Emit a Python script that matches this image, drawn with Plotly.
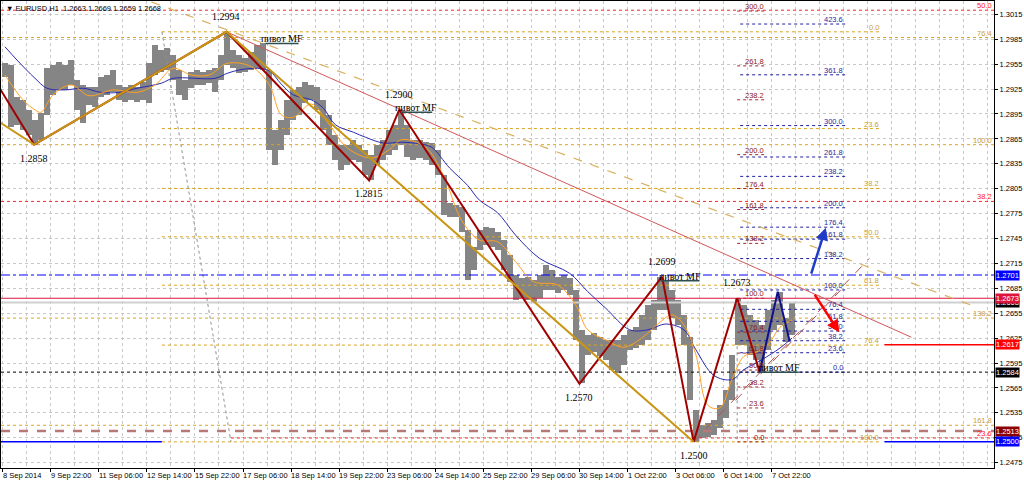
import plotly.graph_objects as go

# ---------------- DATA ----------------
# H1 bars of EURUSD, aggregated in groups of 4 bars (group k covers bars 4k..4k+3)
bar_high = [1.2956,1.2954,1.2915,1.2912,1.2900,1.2888,1.2896,1.2950,1.2954,1.2958,
            1.2954,1.2960,1.2936,1.2930,1.2927,1.2927,1.2940,1.2942,1.2948,1.2930,
            1.2927,1.2930,1.2927,1.2934,1.2956,1.2978,1.2972,1.2974,1.2966,1.2948,
            1.2936,1.2946,1.2948,1.2946,1.2948,1.2950,1.2966,1.2993,1.2972,1.2966,
            1.2962,1.2970,1.2978,1.2980,1.2948,1.2876,1.2888,1.2912,1.2924,1.2927,
            1.2934,1.2930,1.2927,1.2912,1.2894,1.2870,1.2858,1.2858,1.2864,1.2858,
            1.2852,1.2846,1.2858,1.2864,1.2876,1.2882,1.2900,1.2882,1.2864,1.2864,
            1.2861,1.2860,1.2852,1.2821,1.2788,1.2785,1.2783,1.2755,1.2735,1.2755,
            1.2759,1.2758,1.2753,1.2743,1.2725,1.2701,1.2697,1.2699,1.2695,1.2701,
            1.2713,1.2707,1.2699,1.2701,1.2697,1.2683,1.2635,1.2629,1.2631,1.2626,
            1.2623,1.2623,1.2623,1.2629,1.2635,1.2638,1.2653,1.2665,1.2671,1.2699,
            1.2695,1.2683,1.2671,1.2653,1.2626,1.2538,1.2520,1.2523,1.2526,1.2544,
            1.2562,1.2605,1.2673,1.2665,1.2653,1.2647,1.2641,1.2659,1.2671,1.2681,
            1.2649,1.2667]
bar_low = [1.2940,1.2879,1.2882,1.2876,1.2870,1.2858,1.2864,1.2894,1.2918,1.2924,
           1.2924,1.2930,1.2900,1.2884,1.2906,1.2903,1.2915,1.2918,1.2921,1.2912,
           1.2909,1.2912,1.2909,1.2912,1.2908,1.2942,1.2946,1.2948,1.2936,1.2918,
           1.2912,1.2926,1.2930,1.2930,1.2932,1.2921,1.2936,1.2954,1.2950,1.2944,
           1.2946,1.2948,1.2950,1.2948,1.2852,1.2834,1.2852,1.2870,1.2888,1.2894,
           1.2908,1.2912,1.2900,1.2876,1.2858,1.2840,1.2828,1.2834,1.2840,1.2837,
           1.2821,1.2815,1.2834,1.2840,1.2846,1.2852,1.2858,1.2843,1.2840,1.2842,
           1.2840,1.2834,1.2821,1.2773,1.2771,1.2771,1.2753,1.2695,1.2707,1.2731,
           1.2737,1.2735,1.2731,1.2707,1.2693,1.2671,1.2673,1.2671,1.2667,1.2673,
           1.2683,1.2683,1.2679,1.2683,1.2677,1.2623,1.2571,1.2605,1.2608,1.2603,
           1.2599,1.2587,1.2583,1.2593,1.2611,1.2613,1.2617,1.2623,1.2635,1.2659,
           1.2659,1.2649,1.2641,1.2617,1.2550,1.2500,1.2505,1.2506,1.2508,1.2517,
           1.2529,1.2550,1.2617,1.2617,1.2605,1.2599,1.2583,1.2611,1.2635,1.2641,
           1.2620,1.2629]

# moving averages (group index k, price)
ma_fast_k = [0,3,5,6,8,11,14,18,22,25,28,31,34,37,41,44,46,48,51,54,57,61,64,66,70,73,76,79,82,85,
             88,92,95,97,100,103,106,109,111,113,115,117,119,121,123,125,127,129,131]
ma_fast_p = [1.2942,1.2912,1.2900,1.2897,1.2918,1.2930,1.2917,1.2924,1.2921,1.2930,1.2950,1.2942,
             1.2942,1.2956,1.2952,1.2930,1.2894,1.2891,1.2907,1.2882,1.2854,1.2842,1.2852,1.2864,
             1.2855,1.2821,1.2767,1.2743,1.2741,1.2717,1.2693,1.2689,1.2665,1.2635,1.2623,1.2614,
             1.2625,1.2644,1.2653,1.2641,1.2605,1.2544,1.2541,1.2575,1.2603,1.2608,1.2617,1.2638,1.2647]
ma_slow_k = [0,2,5,7,10,13,16,19,22,26,28,35,37,39,42,44,46,48,51,53,55,58,60,63,66,69,71,74,77,79,
             82,85,89,94,97,100,104,107,110,113,115,118,121,123,126,129,131]
ma_slow_p = [1.2976,1.2960,1.2938,1.2926,1.2924,1.2926,1.2921,1.2921,1.2926,1.2932,1.2938,1.2938,
             1.2944,1.2948,1.2950,1.2947,1.2931,1.2918,1.2912,1.2902,1.2882,1.2873,1.2867,1.2860,
             1.2861,1.2859,1.2855,1.2830,1.2809,1.2791,1.2776,1.2749,1.2721,1.2703,1.2681,1.2661,
             1.2635,1.2635,1.2642,1.2635,1.2611,1.2580,1.2575,1.2587,1.2599,1.2613,1.2625]

# zigzag swing points (bar index, price)
red_zz_i = [-2, 21, 149, 244, 264, 384, 439, 460, 489, 504]
red_zz_p = [1.2926, 1.2858, 1.2994, 1.2815, 1.2900, 1.2570, 1.2699, 1.2500, 1.2673, 1.2584]
gold_zz_i = [-2, 21, 149, 460]
gold_zz_p = [1.2885, 1.2858, 1.2994, 1.2500]
blue_zz_i = [504, 516, 524]
blue_zz_p = [1.2584, 1.2681, 1.2621]

# swing value labels
swing_i = [149, 21, 244, 264, 384, 439, 460, 489]
swing_p = [1.2994, 1.2858, 1.2815, 1.2900, 1.2570, 1.2699, 1.2500, 1.2673]
swing_up = [True, False, False, True, False, True, False, True]

# "пивот MF" marks (start bar, end bar, price)
pivot_i0 = [175, 265, 438, 504]
pivot_i1 = [197, 286, 464, 530]
pivot_p = [1.2980, 1.2897, 1.2694, 1.2584]

# Fibonacci objects
fib_ratios_ext = [0, 23.6, 38.2, 50, 61.8, 76.4, 100, 138.2, 161.8, 176.4, 200, 238.2, 261.8, 300]
fib_ratios_blue = [0, 23.6, 38.2, 50, 61.8, 76.4, 100, 138.2, 161.8, 176.4, 200, 238.2, 261.8, 300, 361.8, 423.6]
fib_ratios_std = [0, 23.6, 38.2, 50, 61.8, 76.4, 100]
fib_ratios_e = [0, 23.6, 38.2, 50, 61.8, 76.4, 100, 138.2, 161.8]

# trend lines (bar index, price)
trend_red_i = [149, 605]; trend_red_p = [1.2994, 1.2626]
trend_tan_i = [99, 646]; trend_tan_p = [1.3030, 1.2664]
fork1_i = [460, 577]; fork1_p = [1.2500, 1.2721]
fork2_i = [488, 558]; fork2_p = [1.2550, 1.2683]

# arrows (tail -> head)
arrow_blue = (538, 1.2701, 548, 1.2758)
arrow_red = (540, 1.2679, 557, 1.2632)

# x tick labels (every 32 H1 bars)
x_labels = ["8 Sep 2014", "9 Sep 22:00", "11 Sep 06:00", "12 Sep 14:00", "15 Sep 22:00",
            "17 Sep 06:00", "18 Sep 14:00", "19 Sep 22:00", "23 Sep 06:00", "24 Sep 14:00",
            "25 Sep 22:00", "29 Sep 06:00", "30 Sep 14:00", "1 Oct 22:00", "3 Oct 06:00",
            "6 Oct 14:00", "7 Oct 22:00"]
y_ticks = [round(1.2475 + 0.003 * n, 4) for n in range(19)]

# price tags on the right scale
tag_price = [1.2701, 1.2668, 1.2673, 1.2617, 1.2584, 1.2513, 1.2500]
tag_color = ['#0000FF', '#000000', '#DC143C', '#FF0000', '#000000', '#8B0000', '#0000FF']

# ---------------- FIGURE ----------------
XMIN, XMAX = -1.13, 660
YMIN, YMAX = 1.24685, 1.30311
SANS = 'Liberation Sans'
SERIF = 'Liberation Serif'

fig = go.Figure()
ann = []


def hline(x0, x1, p, color, dash='solid', width=1):
    fig.add_trace(go.Scatter(x=[x0, x1], y=[p, p], mode='lines',
                             line=dict(color=color, dash=dash, width=width), hoverinfo='skip'))


def fib(p0, p100, i0, i1, ratios, color, tcolor):
    for r in ratios:
        p = p0 + (p100 - p0) * r / 100.0
        if not (YMIN < p < YMAX):
            continue
        hline(i0, i1, p, color, 'dot', 1)
        ann.append(dict(x=i1, y=p, xref='x', yref='y', text=f"{r:.1f}", showarrow=False,
                        xanchor='right', yanchor='bottom', yshift=-2,
                        font=dict(family=SANS, size=7.5, color=tcolor)))


# big fibs
fib(1.2044, 1.2044 + 0.1952, XMIN, XMAX, [38.2, 50], '#FF2020', '#FF2020')
fib(1.2044, 1.2044 + 0.1952, 152, XMAX, [23.6], '#FF2020', '#FF2020')
fib(1.3405, 1.2858, XMIN, XMAX, fib_ratios_e, '#DAA520', '#C8A040')
fib(1.2994, 1.2500, 106, 585, fib_ratios_std, '#DAA520', '#C8A040')
fib(1.2500, 1.2673, 489, 508, fib_ratios_ext, '#A52A2A', '#8B2020')
fib(1.2584, 1.2683, 491, 561, fib_ratios_blue, '#2020A0', '#2828A0')

# fib anchor lines
fig.add_trace(go.Scatter(x=[106, 152], y=[1.2994, 1.2500], mode='lines',
                         line=dict(color='#909090', dash='dot', width=1), hoverinfo='skip'))
fig.add_trace(go.Scatter(x=[489, 489], y=[1.2673, 1.2500], mode='lines',
                         line=dict(color='#909090', dash='dot', width=1), hoverinfo='skip'))

# horizontal price lines
hline(XMIN, XMAX, 1.2668, '#D0D0D0', 'solid', 2)
hline(XMIN, XMAX, 1.2701, '#0000FF', 'dashdot', 1)
hline(XMIN, XMAX, 1.2673, '#DC143C', 'solid', 1)
hline(587, XMAX, 1.2617, '#FF0000', 'solid', 1.5)
hline(XMIN, XMAX, 1.2584, '#000000', 'dot', 1)
hline(XMIN, XMAX, 1.2513, '#B87878', 'dash', 2.5)
hline(XMIN, 106, 1.2500, '#0000FF', 'solid', 1.5)
hline(587, XMAX, 1.2500, '#0000FF', 'solid', 1.5)

# price bars
bx = [4 * k + 1.5 for k in range(len(bar_high))]
fig.add_trace(go.Bar(x=bx, y=[h - l for h, l in zip(bar_high, bar_low)], base=bar_low,
                     width=4.0, marker=dict(color='#858585', line=dict(width=0)), hoverinfo='skip'))

# moving averages
fig.add_trace(go.Scatter(x=[4 * k + 1.5 for k in ma_slow_k], y=ma_slow_p, mode='lines',
                         line=dict(color='#2B2BB0', width=1, shape='spline'), hoverinfo='skip'))
fig.add_trace(go.Scatter(x=[4 * k + 1.5 for k in ma_fast_k], y=ma_fast_p, mode='lines',
                         line=dict(color='#FFA024', width=1, shape='spline'), hoverinfo='skip'))

# trend lines
fig.add_trace(go.Scatter(x=trend_tan_i, y=trend_tan_p, mode='lines',
                         line=dict(color='#D8B060', dash='dash', width=1.2), hoverinfo='skip'))
fig.add_trace(go.Scatter(x=trend_red_i, y=trend_red_p, mode='lines',
                         line=dict(color='#D05858', width=1), hoverinfo='skip'))
for fi, fp in ((fork1_i, fork1_p), (fork2_i, fork2_p)):
    fig.add_trace(go.Scatter(x=fi, y=fp, mode='lines',
                             line=dict(color='#B05050', dash='dash', width=1), hoverinfo='skip'))

# zigzags
fig.add_trace(go.Scatter(x=red_zz_i, y=red_zz_p, mode='lines',
                         line=dict(color='#A00000', width=2), hoverinfo='skip'))
fig.add_trace(go.Scatter(x=gold_zz_i, y=gold_zz_p, mode='lines',
                         line=dict(color='#C89614', width=2), hoverinfo='skip'))
fig.add_trace(go.Scatter(x=blue_zz_i, y=blue_zz_p, mode='lines',
                         line=dict(color='#10108A', width=2), hoverinfo='skip'))

# pivot MF marks
for a, b, p in zip(pivot_i0, pivot_i1, pivot_p):
    fig.add_trace(go.Scatter(x=[a, b], y=[p, p], mode='lines',
                             line=dict(color='#2F4F4F', width=1.5), hoverinfo='skip'))
    ann.append(dict(x=(a + b) / 2, y=p, xref='x', yref='y', text='пивот MF', showarrow=False,
                    xanchor='center', yanchor='bottom', yshift=-3,
                    font=dict(family=SERIF, size=10, color='#000000')))

# swing labels
for i, p, up in zip(swing_i, swing_p, swing_up):
    ann.append(dict(x=i, y=p, xref='x', yref='y', text=f"{p:.4f}", showarrow=False,
                    xanchor='center', yanchor='bottom' if up else 'top',
                    yshift=8 if up else -6,
                    font=dict(family=SERIF, size=10, color='#000000')))

# arrows
for (ti, tp, hi, hp), col in ((arrow_blue, '#1E3CC8'), (arrow_red, '#FF0000')):
    ann.append(dict(x=hi, y=hp, ax=ti, ay=tp, xref='x', yref='y', axref='x', ayref='y',
                    showarrow=True, arrowhead=2, arrowsize=1, arrowwidth=2.5, arrowcolor=col, text=''))

# right-scale price tags
for p, c in zip(tag_price, tag_color):
    ann.append(dict(x=1, y=p, xref='paper', yref='y', text=f"{p:.4f}", showarrow=False,
                    xanchor='left', yanchor='middle', xshift=1, bgcolor=c, borderpad=0,
                    font=dict(family=SANS, size=7.5, color='#FFFFFF')))

# x labels
for n, t in enumerate(x_labels):
    ann.append(dict(x=32 * n, y=0, xref='x', yref='paper', text=t, showarrow=False,
                    xanchor='left', yanchor='top', xshift=-2, yshift=-1,
                    font=dict(family=SANS, size=7.5, color='#000000')))

# header
ann.append(dict(x=0, y=1, xref='paper', yref='paper',
                text='▼ EURUSD,H1  1.2663 1.2669 1.2659 1.2668', showarrow=False,
                xanchor='left', yanchor='top', xshift=3, yshift=-1,
                font=dict(family=SANS, size=7.5, color='#000000')))

grid = dict(color='#C8C8C8')
fig.update_layout(
    width=1024, height=482, margin=dict(l=1, r=30, t=1, b=14),
    paper_bgcolor='white', plot_bgcolor='white', showlegend=False, bargap=0,
    annotations=ann,
    xaxis=dict(range=[XMIN, XMAX], tickvals=list(range(0, 513, 32)), showticklabels=False,
               ticks='outside', ticklen=3, tickcolor='#000000',
               showgrid=True, gridcolor=grid['color'], griddash='dot', gridwidth=1,
               minor=dict(tickvals=[v for v in range(0, 660, 16) if not (v % 32 == 0 and v <= 512)],
                          showgrid=True, gridcolor=grid['color'], griddash='dot', ticks=''),
               showline=True, linecolor='#000000', linewidth=1, mirror=True, zeroline=False),
    yaxis=dict(range=[YMIN, YMAX], side='right', tickvals=y_ticks,
               ticktext=[f"{v:.4f}" for v in y_ticks], ticks='outside', ticklen=3,
               tickcolor='#000000', tickfont=dict(family=SANS, size=7.5, color='#000000'),
               showgrid=True, gridcolor=grid['color'], griddash='dot', gridwidth=1,
               showline=True, linecolor='#000000', linewidth=1, mirror=True, zeroline=False),
)

fig.write_html("out.html", config={'displayModeBar': False},
               post_script="document.body.style.margin='0';document.body.style.overflow='hidden';")
